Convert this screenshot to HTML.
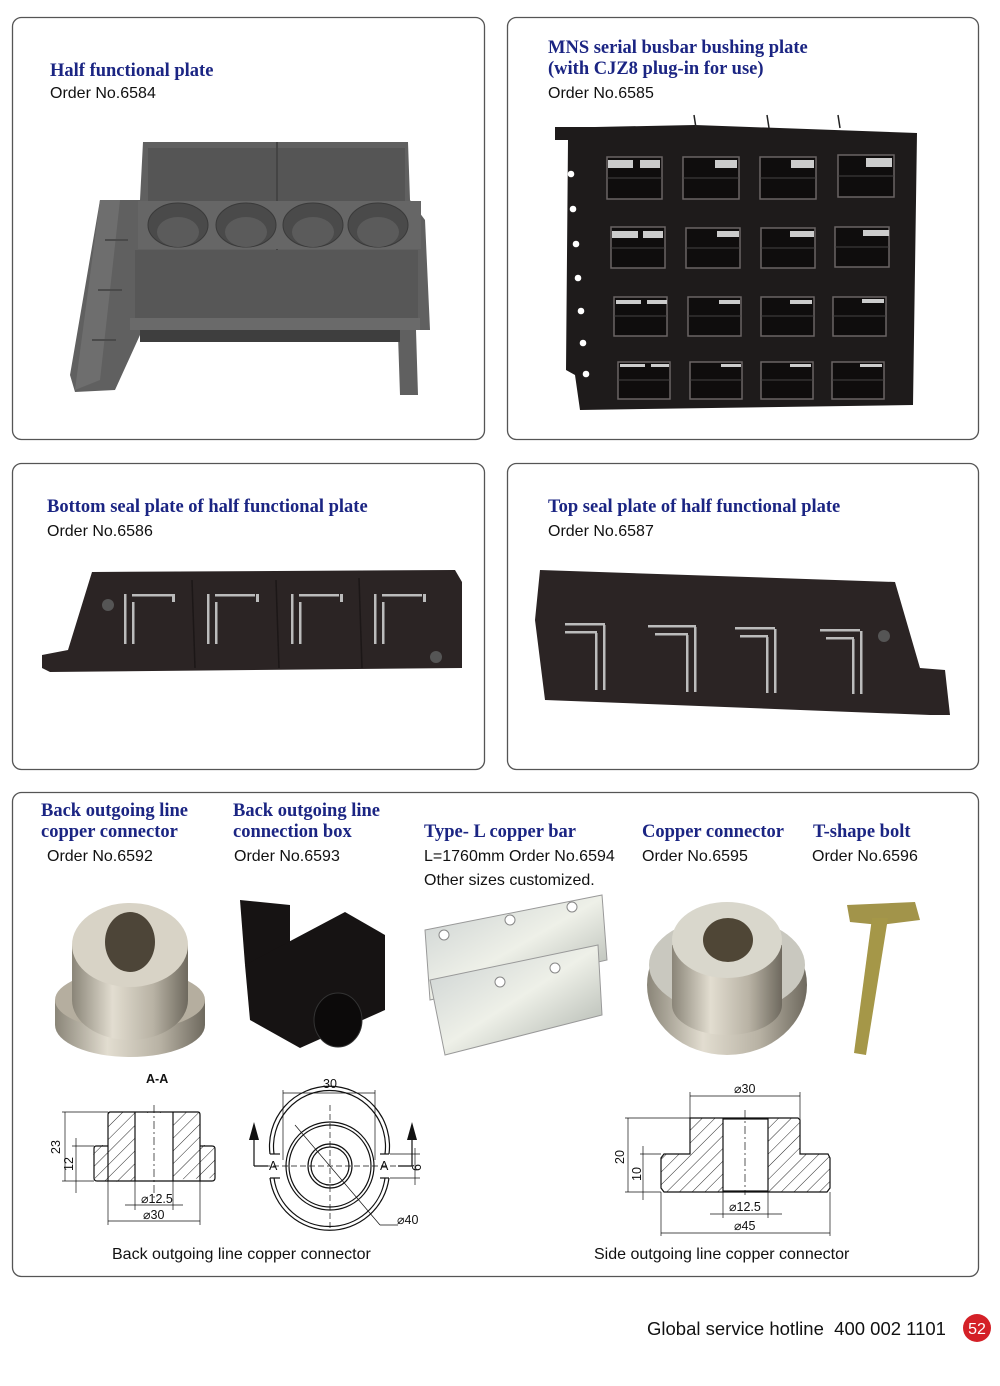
<!DOCTYPE html>
<html><head><meta charset="utf-8"><style>
html,body{margin:0;padding:0;background:#fff;}
svg{display:block;}
.t{font-family:"Liberation Serif",serif;font-weight:bold;font-size:18.5px;fill:#1b2583;}
.o{font-family:"Liberation Sans",sans-serif;font-size:16px;fill:#111;}
.d{font-family:"Liberation Sans",sans-serif;font-size:12.5px;fill:#111;}
.box{fill:#fff;stroke:#555;stroke-width:1.3;}
.ln{stroke:#111;stroke-width:1.2;fill:none;}
.th{stroke:#111;stroke-width:0.7;fill:none;}
</style></head><body>
<svg width="1000" height="1386" viewBox="0 0 1000 1386" xmlns="http://www.w3.org/2000/svg">
<defs>
<pattern id="h" width="9" height="9" patternUnits="userSpaceOnUse" patternTransform="rotate(45)"><line x1="0" y1="0" x2="0" y2="9" stroke="#111" stroke-width="0.9"/></pattern>
<linearGradient id="sil" x1="0" x2="1"><stop offset="0" stop-color="#8a8578"/><stop offset="0.35" stop-color="#e2ddd0"/><stop offset="0.7" stop-color="#b8b2a4"/><stop offset="1" stop-color="#6e695e"/></linearGradient>
<linearGradient id="al" x1="0" x2="1" y1="0" y2="1"><stop offset="0" stop-color="#c9cfd0"/><stop offset="0.5" stop-color="#eef0e8"/><stop offset="1" stop-color="#a9afa8"/></linearGradient>
</defs>
<rect class="box" x="12.5" y="17.5" width="472" height="422" rx="9"/>
<rect class="box" x="507.5" y="17.5" width="471" height="422" rx="9"/>
<rect class="box" x="12.5" y="463.5" width="472" height="306" rx="9"/>
<rect class="box" x="507.5" y="463.5" width="471" height="306" rx="9"/>
<rect class="box" x="12.5" y="792.5" width="966" height="484" rx="9"/>

<text class="t" x="50" y="76">Half functional plate</text>
<text class="o" x="50" y="98">Order No.6584</text>
<text class="t" x="548" y="53">MNS serial busbar bushing plate</text>
<text class="t" x="548" y="74">(with CJZ8 plug-in for use)</text>
<text class="o" x="548" y="98">Order No.6585</text>
<text class="t" x="47" y="512">Bottom seal plate of half functional plate</text>
<text class="o" x="47" y="536">Order No.6586</text>
<text class="t" x="548" y="512">Top seal plate of half functional plate</text>
<text class="o" x="548" y="536">Order No.6587</text>

<g>
<polygon points="143,142 408,142 410,200 425,220 430,330 416,330 418,395 400,395 398,335 140,335 115,390 75,392 70,375 100,200 140,200" fill="#606060"/>
<rect x="148" y="148" width="257" height="55" fill="#555"/>
<line x1="277" y1="142" x2="277" y2="335" stroke="#444" stroke-width="2"/>
<rect x="138" y="201" width="283" height="48" fill="#666"/>
<g fill="#4a4a4a" stroke="#3a3a3a"><ellipse cx="178" cy="225" rx="30" ry="22"/><ellipse cx="246" cy="225" rx="30" ry="22"/><ellipse cx="313" cy="225" rx="30" ry="22"/><ellipse cx="378" cy="225" rx="30" ry="22"/></g>
<g fill="#5b5b5b"><ellipse cx="178" cy="232" rx="21" ry="15"/><ellipse cx="246" cy="232" rx="21" ry="15"/><ellipse cx="313" cy="232" rx="21" ry="15"/><ellipse cx="378" cy="232" rx="21" ry="15"/></g>
<rect x="135" y="250" width="283" height="68" fill="#575757"/>
<rect x="130" y="318" width="290" height="12" fill="#6a6a6a"/>
<rect x="140" y="330" width="260" height="12" fill="#3e3e3e"/>
<polygon points="100,200 120,200 100,380 75,390" fill="#6e6e6e"/>
<g stroke="#4a4a4a" stroke-width="2"><line x1="105" y1="240" x2="128" y2="240"/><line x1="98" y1="290" x2="122" y2="290"/><line x1="92" y1="340" x2="116" y2="340"/></g>
</g>

<g>
<polygon points="595,127 695,125 917,133 913,405 580,410 575,375 566,370 568,140 555,140 555,127" fill="#1e1b1b"/>
<g fill="#fff"><circle cx="571" cy="174" r="3.3"/><circle cx="573" cy="209" r="3.3"/><circle cx="576" cy="244" r="3.3"/><circle cx="578" cy="278" r="3.3"/><circle cx="581" cy="311" r="3.3"/><circle cx="583" cy="343" r="3.3"/><circle cx="586" cy="374" r="3.3"/></g>
<g stroke="#6a6464" stroke-width="1.5" fill="#0f0d0d">
<rect x="607" y="157" width="55" height="42"/><rect x="683" y="157" width="56" height="42"/><rect x="760" y="157" width="56" height="42"/><rect x="838" y="155" width="56" height="42"/>
<rect x="611" y="227" width="54" height="41"/><rect x="686" y="228" width="54" height="40"/><rect x="761" y="228" width="54" height="40"/><rect x="835" y="227" width="54" height="40"/>
<rect x="614" y="297" width="53" height="39"/><rect x="688" y="297" width="53" height="39"/><rect x="761" y="297" width="53" height="39"/><rect x="833" y="297" width="53" height="39"/>
<rect x="618" y="362" width="52" height="37"/><rect x="690" y="362" width="52" height="37"/><rect x="761" y="362" width="52" height="37"/><rect x="832" y="362" width="52" height="37"/>
</g>
<g fill="#ccc"><rect x="608" y="160" width="25" height="8"/><rect x="640" y="160" width="20" height="8"/><rect x="715" y="160" width="22" height="8"/><rect x="791" y="160" width="23" height="8"/><rect x="866" y="158" width="26" height="9"/>
<rect x="612" y="231" width="26" height="7"/><rect x="643" y="231" width="20" height="7"/><rect x="717" y="231" width="22" height="6"/><rect x="790" y="231" width="24" height="6"/><rect x="863" y="230" width="26" height="6"/>
<rect x="616" y="300" width="25" height="4"/><rect x="647" y="300" width="20" height="4"/><rect x="719" y="300" width="21" height="4"/><rect x="790" y="300" width="22" height="4"/><rect x="862" y="299" width="22" height="4"/>
<rect x="620" y="364" width="25" height="3"/><rect x="651" y="364" width="18" height="3"/><rect x="721" y="364" width="20" height="3"/><rect x="790" y="364" width="21" height="3"/><rect x="860" y="364" width="22" height="3"/></g>
<g stroke="#444" stroke-width="1"><line x1="607" y1="178" x2="662" y2="178"/><line x1="683" y1="178" x2="739" y2="178"/><line x1="760" y1="178" x2="816" y2="178"/><line x1="838" y1="176" x2="894" y2="176"/>
<line x1="611" y1="248" x2="665" y2="248"/><line x1="686" y1="248" x2="740" y2="248"/><line x1="761" y1="248" x2="815" y2="248"/><line x1="835" y1="247" x2="889" y2="247"/>
<line x1="614" y1="316" x2="667" y2="316"/><line x1="688" y1="316" x2="741" y2="316"/><line x1="761" y1="316" x2="814" y2="316"/><line x1="833" y1="316" x2="886" y2="316"/>
<line x1="618" y1="380" x2="670" y2="380"/><line x1="690" y1="380" x2="742" y2="380"/><line x1="761" y1="380" x2="813" y2="380"/><line x1="832" y1="380" x2="884" y2="380"/></g>
<g stroke="#222" stroke-width="1.5"><line x1="694" y1="115" x2="696" y2="128"/><line x1="767" y1="115" x2="769" y2="128"/><line x1="838" y1="115" x2="840" y2="128"/></g>
</g>

<g>
<polygon points="92,572 455,570 462,582 462,668 50,672 42,668 42,655 68,650" fill="#2b2424"/>
<g stroke="#1c1717" stroke-width="1.5"><line x1="192" y1="580" x2="195" y2="668"/><line x1="276" y1="580" x2="279" y2="668"/><line x1="359" y1="578" x2="362" y2="668"/></g>
<circle cx="108" cy="605" r="6" fill="#555"/><circle cx="436" cy="657" r="6" fill="#555"/>
<g fill="#bbb">
<rect x="124" y="594" width="2.5" height="50"/><rect x="132" y="602" width="2.5" height="42"/><rect x="132" y="594" width="40" height="2.5"/><rect x="172" y="594" width="3" height="8"/>
<rect x="207" y="594" width="2.5" height="50"/><rect x="215" y="602" width="2.5" height="42"/><rect x="215" y="594" width="40" height="2.5"/><rect x="256" y="594" width="3" height="8"/>
<rect x="291" y="594" width="2.5" height="50"/><rect x="299" y="602" width="2.5" height="42"/><rect x="299" y="594" width="40" height="2.5"/><rect x="340" y="594" width="3" height="8"/>
<rect x="374" y="594" width="2.5" height="50"/><rect x="382" y="602" width="2.5" height="42"/><rect x="382" y="594" width="40" height="2.5"/><rect x="423" y="594" width="3" height="8"/>
</g>
</g>

<g>
<polygon points="540,570 895,582 920,668 945,670 950,715 930,715 545,700 535,620" fill="#2b2424"/>
<circle cx="884" cy="636" r="6" fill="#555"/>
<g fill="#bbb">
<rect x="565" y="623" width="40" height="2.5"/><rect x="565" y="631" width="32" height="2.5"/><rect x="603" y="625" width="2.5" height="65"/><rect x="595" y="633" width="2.5" height="57"/>
<rect x="648" y="625" width="48" height="2.5"/><rect x="655" y="633" width="33" height="2.5"/><rect x="694" y="627" width="2.5" height="65"/><rect x="686" y="635" width="2.5" height="57"/>
<rect x="735" y="627" width="40" height="2.5"/><rect x="740" y="635" width="28" height="2.5"/><rect x="774" y="629" width="2.5" height="64"/><rect x="766" y="637" width="2.5" height="56"/>
<rect x="820" y="629" width="40" height="2.5"/><rect x="826" y="637" width="28" height="2.5"/><rect x="860" y="631" width="2.5" height="63"/><rect x="852" y="639" width="2.5" height="55"/>
</g>
</g>

<text class="t" x="41" y="816">Back outgoing line</text>
<text class="t" x="41" y="837">copper connector</text>
<text class="o" x="47" y="861">Order No.6592</text>
<text class="t" x="233" y="816">Back outgoing line</text>
<text class="t" x="233" y="837">connection box</text>
<text class="o" x="234" y="861">Order No.6593</text>
<text class="t" x="424" y="837">Type- L copper bar</text>
<text class="o" x="424" y="861">L=1760mm Order No.6594</text>
<text class="o" x="424" y="885">Other sizes customized.</text>
<text class="t" x="642" y="837">Copper connector</text>
<text class="o" x="642" y="861">Order No.6595</text>
<text class="t" x="813" y="837">T-shape bolt</text>
<text class="o" x="812" y="861">Order No.6596</text>

<g>
<path d="M55,1000 L55,1025 A75,32 0 0 0 205,1025 L205,1000 Z" fill="url(#sil)"/>
<ellipse cx="130" cy="1000" rx="75" ry="30" fill="#b5ae9f"/>
<path d="M72,945 L72,1000 A58,40 0 0 0 188,1000 L188,945 Z" fill="url(#sil)"/>
<ellipse cx="130" cy="945" rx="58" ry="42" fill="#d8d3c6"/>
<ellipse cx="130" cy="942" rx="25" ry="30" fill="#4d4538"/>
</g>
<g fill="#161313">
<polygon points="240,900 290,905 290,955 245,965"/>
<polygon points="245,965 345,912 385,935 385,1010 300,1048 250,1020"/>
<ellipse cx="338" cy="1020" rx="24" ry="27" fill="#0c0a0a" stroke="#333"/>
</g>
<g>
<polygon points="425,930 602,895 607,960 430,1000" fill="url(#al)" stroke="#999"/>
<polygon points="430,980 598,945 602,1015 445,1055" fill="url(#al)" stroke="#999"/>
<g fill="#fff" stroke="#888"><circle cx="444" cy="935" r="5"/><circle cx="510" cy="920" r="5"/><circle cx="572" cy="907" r="5"/><circle cx="500" cy="982" r="5"/><circle cx="555" cy="968" r="5"/></g>
</g>
<g>
<ellipse cx="727" cy="985" rx="80" ry="70" fill="url(#sil)"/>
<ellipse cx="727" cy="965" rx="78" ry="48" fill="#c9c8bf"/>
<path d="M672,945 L672,1005 A55,30 0 0 0 782,1005 L782,945 Z" fill="url(#sil)"/>
<ellipse cx="727" cy="940" rx="55" ry="38" fill="#d9d7cc"/>
<ellipse cx="728" cy="940" rx="25" ry="22" fill="#4f4636"/>
</g>
<g>
<polygon points="847,905 915,902 920,920 880,925 850,922" fill="#a2944a"/>
<polygon points="872,918 888,918 866,1055 854,1053" fill="#a59748"/>
</g>

<text class="d" x="146" y="1083" font-weight="bold">A-A</text>
<g>
<path d="M108,1112 L200,1112 L200,1145 L213,1145 L215,1150 L215,1178 L108,1182 L95,1180 L93,1150 L95,1145 L108,1145 Z" fill="url(#h)" stroke="none"/>
<rect x="135" y="1113" width="38" height="69" fill="#fff"/>
<path class="ln" d="M110,1112 L198,1112 Q200,1112 200,1115 L200,1181 L108,1181 L108,1115 Q108,1112 110,1112 Z"/>
<path class="ln" d="M108,1146 L96,1146 Q94,1146 94,1149 L94,1178 Q94,1181 97,1181 L108,1181"/>
<path class="ln" d="M200,1146 L212,1146 Q215,1146 215,1149 L215,1178 Q215,1181 212,1181 L200,1181"/>
<line class="ln" x1="135" y1="1112" x2="135" y2="1181"/><line class="ln" x1="173" y1="1112" x2="173" y2="1181"/>
<line class="th" x1="154" y1="1105" x2="154" y2="1200" stroke-dasharray="8,3,2,3"/>
<g class="th"><line x1="62" y1="1112" x2="108" y2="1112"/><line x1="62" y1="1181" x2="94" y2="1181"/><line x1="65" y1="1112" x2="65" y2="1181"/>
<line x1="72" y1="1146" x2="94" y2="1146"/><line x1="76" y1="1138" x2="76" y2="1193"/>
<line x1="135" y1="1181" x2="135" y2="1210"/><line x1="173" y1="1181" x2="173" y2="1210"/><line x1="125" y1="1205" x2="183" y2="1205"/>
<line x1="108" y1="1181" x2="108" y2="1225"/><line x1="200" y1="1181" x2="200" y2="1225"/><line x1="108" y1="1221" x2="200" y2="1221"/></g>
<text class="d" x="60" y="1154" transform="rotate(-90 60 1154)">23</text>
<text class="d" x="73" y="1171" transform="rotate(-90 73 1171)">12</text>
<text class="d" x="141" y="1203">⌀12.5</text>
<text class="d" x="143" y="1219">⌀30</text>
</g>
<g>
<g class="ln">
<path d="M270,1154 A60,60 0 1 1 389,1154"/><path d="M270,1178 A60,60 0 0 0 389,1178"/>
<path d="M274,1154 A56,56 0 1 1 385,1154"/><path d="M274,1178 A56,56 0 0 0 385,1178"/>
<circle cx="330" cy="1166" r="44"/><circle cx="330" cy="1166" r="41"/>
<circle cx="330" cy="1166" r="22"/><circle cx="330" cy="1166" r="19"/>
</g>
<line x1="270" y1="1154" x2="280" y2="1154" class="ln"/><line x1="380" y1="1154" x2="389" y2="1154" class="ln"/>
<line x1="270" y1="1178" x2="280" y2="1178" class="ln"/><line x1="380" y1="1178" x2="389" y2="1178" class="ln"/>
<g class="th"><line x1="255" y1="1166" x2="405" y2="1166" stroke-dasharray="6,3"/><line x1="330" y1="1105" x2="330" y2="1228" stroke-dasharray="6,3"/>
<line x1="283" y1="1090" x2="283" y2="1160"/><line x1="375" y1="1090" x2="375" y2="1160"/><line x1="283" y1="1093" x2="375" y2="1093"/>
<line x1="295" y1="1125" x2="380" y2="1225"/><line x1="380" y1="1225" x2="398" y2="1225"/>
<line x1="390" y1="1154" x2="420" y2="1154"/><line x1="390" y1="1178" x2="420" y2="1178"/><line x1="415" y1="1148" x2="415" y2="1185"/></g>
<path class="ln" d="M254,1166 L254,1138 M412,1166 L412,1138 M254,1166 L268,1166 M398,1166 L412,1166"/>
<polygon points="249,1140 259,1140 254,1122" fill="#111"/><polygon points="407,1140 417,1140 412,1122" fill="#111"/>
<text class="d" x="323" y="1088">30</text>
<text class="d" x="269" y="1170">A</text><text class="d" x="380" y="1170">A</text>
<text class="d" x="421" y="1171" transform="rotate(-90 421 1171)">6</text>
<text class="d" x="397" y="1224">⌀40</text>
</g>
<text class="o" x="112" y="1259">Back outgoing line copper connector</text>

<g>
<path d="M690,1118 L798,1118 L800,1120 L800,1154 L828,1154 L830,1158 L830,1188 L827,1192 L664,1192 L661,1188 L661,1158 L664,1154 L690,1154 Z" fill="url(#h)" stroke="#111" stroke-width="1.2"/>
<rect x="723" y="1119" width="45" height="72" fill="#fff" stroke="#111" stroke-width="1.2"/>
<line class="th" x1="745" y1="1110" x2="745" y2="1195" stroke-dasharray="8,3,2,3"/>
<g class="th"><line x1="690" y1="1092" x2="690" y2="1118"/><line x1="800" y1="1092" x2="800" y2="1154"/><line x1="690" y1="1096" x2="800" y2="1096"/>
<line x1="625" y1="1118" x2="690" y2="1118"/><line x1="625" y1="1192" x2="661" y2="1192"/><line x1="628" y1="1118" x2="628" y2="1192"/>
<line x1="640" y1="1154" x2="661" y2="1154"/><line x1="643" y1="1146" x2="643" y2="1200"/>
<line x1="723" y1="1192" x2="723" y2="1218"/><line x1="768" y1="1192" x2="768" y2="1218"/><line x1="710" y1="1214" x2="782" y2="1214"/>
<line x1="661" y1="1192" x2="661" y2="1236"/><line x1="830" y1="1192" x2="830" y2="1236"/><line x1="661" y1="1233" x2="830" y2="1233"/></g>
<text class="d" x="734" y="1093">⌀30</text>
<text class="d" x="624" y="1164" transform="rotate(-90 624 1164)">20</text>
<text class="d" x="641" y="1181" transform="rotate(-90 641 1181)">10</text>
<text class="d" x="729" y="1211">⌀12.5</text>
<text class="d" x="734" y="1230">⌀45</text>
</g>
<text class="o" x="594" y="1259">Side outgoing line copper connector</text>

<text x="647" y="1335" font-family="Liberation Sans, sans-serif" font-size="18.5" fill="#111" xml:space="preserve">Global service hotline  400 002 1101</text>
<circle cx="977" cy="1328" r="14" fill="#d42027"/>
<text x="977" y="1334" font-family="Liberation Sans, sans-serif" font-size="16" fill="#fff" text-anchor="middle">52</text>
</svg>
</body></html>
